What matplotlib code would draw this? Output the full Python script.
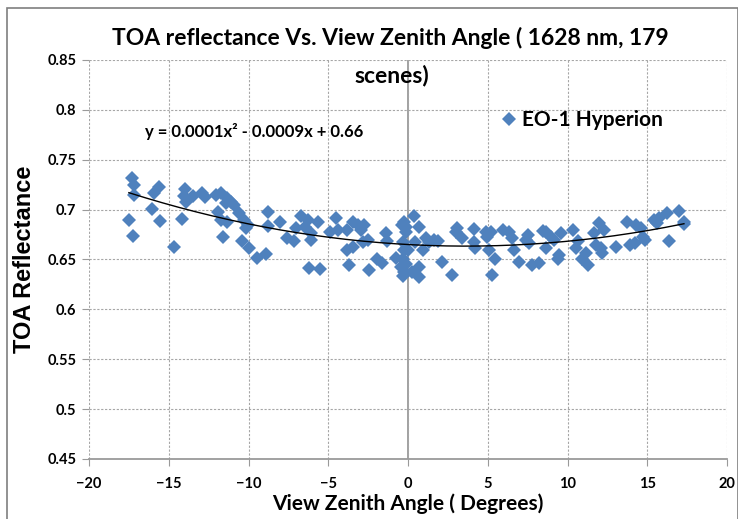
import matplotlib
matplotlib.use('Agg')
import matplotlib.pyplot as plt
import numpy as np
from matplotlib.patches import Rectangle
from matplotlib.lines import Line2D

# View zenith angle (degrees) and TOA reflectance
angles = [
    -17.31, -17.15, -17.15, -17.5, -17.25, -16.06, -15.9, -15.58, -15.52, -14.7,
    -14.2, -14.0, -14.06, -13.9, -13.5, -12.9, -12.7, -12.06, -11.75, -11.33,
    -11.4, -11.1, -10.9, -11.9, -11.7, -11.33, -10.6, -10.27, -10.06, -10.17,
    -11.6, -10.4, -9.96, -9.44, -8.9, -8.75, -8.75, -8.02, -7.6, -7.13,
    -7.0, -6.69, -6.48, -6.27, -6.1, -6.06, -5.65, -6.23, -5.5, -4.92,
    -4.5, -4.4, -3.83, -3.83, -3.7, -3.46, -3.46, -3.15, -2.94, -2.73,
    -2.83, -2.52, -2.42, -1.96, -1.63, -1.4, -1.29, -0.73, -0.4, -0.23,
    -0.13, -0.13, -0.33, -0.23, -0.02, -0.33, -0.44, -0.23, -0.33, -0.13,
    0.4, 0.46, 0.71, 0.25, 0.67, 0.67, 0.92, 1.13, 1.33, 1.65,
    1.85, 2.13, 2.75, 3.0, 3.1, 3.38, 4.15, 4.15, 4.2, 4.88,
    4.98, 5.19, 5.08, 5.46, 5.25, 5.94, 6.35, 6.52, 6.67, 6.98,
    7.4, 7.5, 7.6, 7.75, 8.19, 8.44, 8.65, 8.65, 8.96, 9.17,
    9.48, 9.38, 9.58, 10.35, 10.52, 10.63, 10.94, 11.19, 11.31, 11.67,
    11.77, 11.98, 12.19, 12.29, 12.08, 13.02, 13.75, 13.9, 14.23, 14.27,
    14.58, 14.73, 14.85, 15.42, 15.63, 15.73, 16.25, 16.35, 16.98, 17.3,
    17.3,
]
reflectance = [
    0.732, 0.725, 0.715, 0.690, 0.674, 0.701, 0.717, 0.723, 0.689, 0.663,
    0.691, 0.721, 0.714, 0.708, 0.714, 0.717, 0.713, 0.715, 0.717, 0.712,
    0.707, 0.708, 0.705, 0.698, 0.690, 0.688, 0.697, 0.690, 0.685, 0.682,
    0.673, 0.669, 0.662, 0.652, 0.656, 0.698, 0.684, 0.688, 0.672, 0.669,
    0.682, 0.694, 0.683, 0.690, 0.670, 0.677, 0.688, 0.641, 0.640, 0.678,
    0.692, 0.680, 0.680, 0.660, 0.644, 0.688, 0.663, 0.685, 0.680, 0.685,
    0.668, 0.670, 0.639, 0.650, 0.646, 0.677, 0.669, 0.652, 0.685, 0.688,
    0.683, 0.678, 0.668, 0.660, 0.660, 0.650, 0.642, 0.637, 0.633, 0.645,
    0.694, 0.668, 0.683, 0.637, 0.642, 0.632, 0.660, 0.672, 0.668, 0.670,
    0.669, 0.647, 0.634, 0.678, 0.682, 0.672, 0.681, 0.668, 0.662, 0.678,
    0.673, 0.678, 0.660, 0.650, 0.634, 0.680, 0.678, 0.672, 0.660, 0.647,
    0.670, 0.675, 0.667, 0.644, 0.646, 0.679, 0.662, 0.678, 0.673, 0.670,
    0.655, 0.650, 0.677, 0.680, 0.662, 0.669, 0.651, 0.657, 0.644, 0.677,
    0.665, 0.687, 0.657, 0.680, 0.662, 0.663, 0.688, 0.665, 0.667, 0.685,
    0.682, 0.673, 0.670, 0.690, 0.687, 0.692, 0.697, 0.669, 0.699, 0.688,
    0.686,
]
# quadratic trend line (a, b, c) as drawn on the chart
trend_coef = [0.00012, -0.00087, 0.665]
trend_range = [-17.5, 17.3]

x_ticks = [-20, -15, -10, -5, 0, 5, 10, 15, 20]
y_ticks = [0.45, 0.5, 0.55, 0.6, 0.65, 0.7, 0.75, 0.8, 0.85]
y_tick_labels = ['0.45', '0.5', '0.55', '0.6', '0.65', '0.7', '0.75', '0.8', '0.85']

W, H = 738, 519
narrow = ['Lato', 'DejaVu Sans']
blue = '#4F81BD'

fig = plt.figure(figsize=(W / 100, H / 100), dpi=100)
ax = fig.add_axes([89 / W, (H - 459) / H, (727 - 89) / W, (459 - 60) / H])

ax.plot(angles, reflectance, linestyle='none', marker='D', markersize=6.8,
        color=blue, markeredgewidth=0, zorder=3)

xs = np.linspace(trend_range[0], trend_range[1], 200)
ax.plot(xs, np.polyval(trend_coef, xs), color='black', lw=1.0, zorder=4)

ax.set_xlim(-20, 20)
ax.set_ylim(0.45, 0.85)
ax.set_xticks(x_ticks)
ax.set_yticks(y_ticks)
ax.set_yticklabels(y_tick_labels)
ax.grid(True, color='#a6a6a6', linestyle=(0, (2, 1.5)), lw=0.8, zorder=0)
for s in ['top', 'right', 'left']:
    ax.spines[s].set_visible(False)
ax.spines['bottom'].set_color('#9a9a9a')
ax.spines['bottom'].set_linewidth(1.3)
ax.axvline(0, color='#9a9a9a', lw=1.3, zorder=1)
ax.tick_params(axis='both', colors='#9a9a9a', length=5, width=0.8,
               labelcolor='black', labelsize=10.5)
ax.tick_params(axis='x', pad=8)
ax.tick_params(axis='y', pad=4)
for lab in ax.get_xticklabels() + ax.get_yticklabels():
    lab.set_fontfamily(narrow)
    lab.set_fontweight('bold')

ax.set_xlabel('View Zenith Angle ( Degrees)', fontsize=15, fontweight='bold',
              family=narrow, labelpad=2)
ax.set_ylabel('TOA Reflectance', fontsize=17, fontweight='bold',
              family=['Liberation Sans', 'DejaVu Sans'], labelpad=8)

fig.text(390 / W, 1 - 38 / H, 'TOA reflectance Vs. View Zenith Angle ( 1628 nm, 179',
         ha='center', va='center', fontsize=16.5, fontweight='bold', family=narrow)
fig.text(392 / W, 1 - 75 / H, 'scenes)', ha='center', va='center',
         fontsize=16.5, fontweight='bold', family=narrow)

fig.text(145 / W, 1 - 131 / H, 'y = 0.0001x\u00b2 - 0.0009x + 0.66', ha='left',
         va='center', fontsize=12, fontweight='bold', family=narrow)

handle = Line2D([], [], linestyle='none', marker='D', markersize=6.8,
                color=blue, markeredgewidth=0)
ax.legend([handle], ['EO-1 Hyperion'], loc='center left',
          bbox_to_anchor=(482 / W, 1 - 120 / H), bbox_transform=fig.transFigure,
          frameon=False, handlelength=0.8, handletextpad=0.2,
          prop={'family': narrow, 'weight': 'bold', 'size': 15})

# chart border
fig.patches.append(Rectangle((7 / W, -0.05), 0.99, 1 - 8 / H + 0.05,
                             transform=fig.transFigure, fill=False,
                             edgecolor='#7f7f7f', lw=1.2))

fig.savefig('out.png', dpi=100)
